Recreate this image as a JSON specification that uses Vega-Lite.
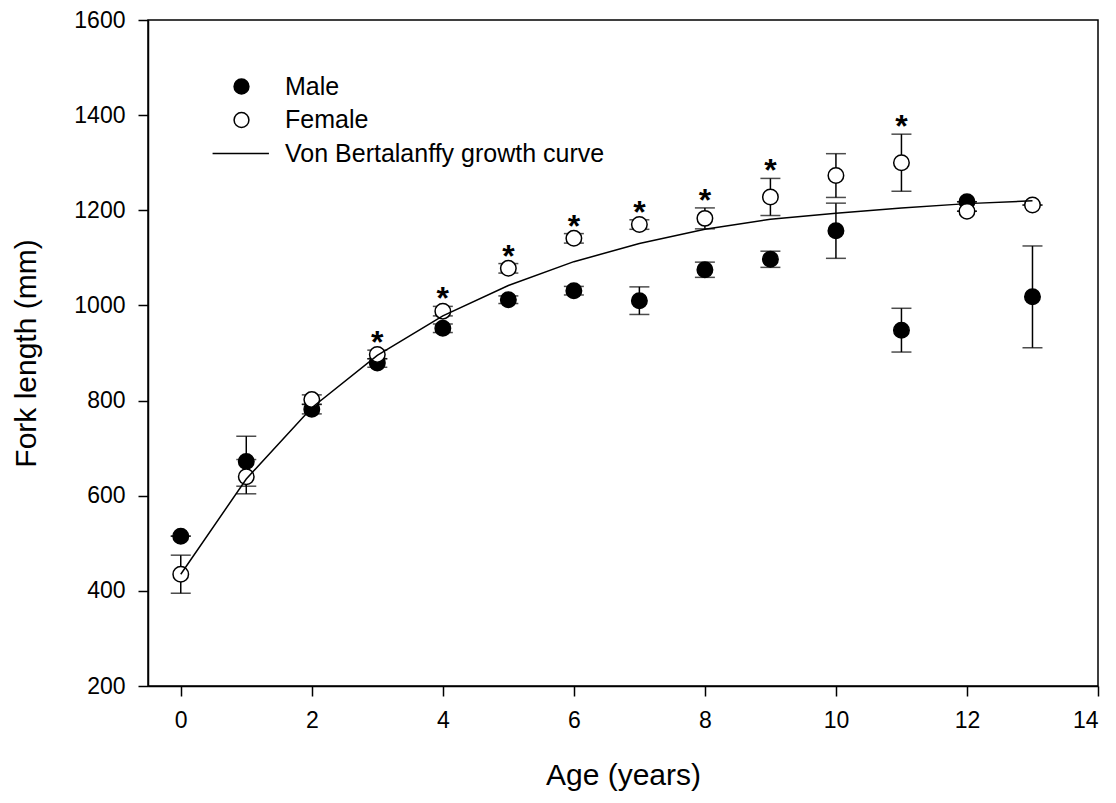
{
  "$schema": "https://vega.github.io/schema/vega-lite/v6.json",
  "autosize": "none",
  "padding": {"left": 148, "top": 20, "right": 18, "bottom": 117},
  "width": 950,
  "height": 666,
  "background": "white",
  "config": {
    "font": "Liberation Sans",
    "view": {"stroke": "black", "strokeWidth": 1.5},
    "axis": {
      "grid": false,
      "domainColor": "black",
      "domainWidth": 1.5,
      "tickColor": "black",
      "tickWidth": 1.5,
      "tickSize": 10,
      "labelColor": "black",
      "labelFont": "Liberation Sans",
      "labelFontSize": 23,
      "titleColor": "black",
      "titleFont": "Liberation Sans",
      "titleFontSize": 30,
      "titleFontWeight": "normal"
    },
    "legend": {
      "labelFont": "Liberation Sans",
      "labelFontSize": 25,
      "labelColor": "black",
      "labelLimit": 0
    }
  },
  "datasets": {
    "pts": [
      {"age": 0, "series": "Male", "fl": 515, "lo": 515, "hi": 515, "star": ""},
      {"age": 1, "series": "Male", "fl": 672, "lo": 620, "hi": 725, "star": ""},
      {"age": 2, "series": "Male", "fl": 782, "lo": 772, "hi": 792, "star": ""},
      {"age": 3, "series": "Male", "fl": 879, "lo": 870, "hi": 888, "star": ""},
      {"age": 4, "series": "Male", "fl": 952, "lo": 943, "hi": 961, "star": ""},
      {"age": 5, "series": "Male", "fl": 1012, "lo": 1004, "hi": 1020, "star": ""},
      {"age": 6, "series": "Male", "fl": 1031, "lo": 1022, "hi": 1040, "star": ""},
      {"age": 7, "series": "Male", "fl": 1010, "lo": 981, "hi": 1039, "star": ""},
      {"age": 8, "series": "Male", "fl": 1075, "lo": 1059, "hi": 1091, "star": ""},
      {"age": 9, "series": "Male", "fl": 1097, "lo": 1080, "hi": 1114, "star": ""},
      {"age": 10, "series": "Male", "fl": 1157, "lo": 1099, "hi": 1215, "star": ""},
      {"age": 11, "series": "Male", "fl": 948, "lo": 902, "hi": 994, "star": ""},
      {"age": 12, "series": "Male", "fl": 1218, "lo": 1218, "hi": 1218, "star": ""},
      {"age": 13, "series": "Male", "fl": 1018, "lo": 911, "hi": 1125, "star": ""},
      {"age": 0, "series": "Female", "fl": 435, "lo": 395, "hi": 475, "star": ""},
      {"age": 1, "series": "Female", "fl": 640, "lo": 604, "hi": 676, "star": ""},
      {"age": 2, "series": "Female", "fl": 802, "lo": 792, "hi": 812, "star": ""},
      {"age": 3, "series": "Female", "fl": 897, "lo": 888, "hi": 906, "star": "*"},
      {"age": 4, "series": "Female", "fl": 988, "lo": 978, "hi": 998, "star": "*"},
      {"age": 5, "series": "Female", "fl": 1078, "lo": 1068, "hi": 1088, "star": "*"},
      {"age": 6, "series": "Female", "fl": 1141, "lo": 1131, "hi": 1151, "star": "*"},
      {"age": 7, "series": "Female", "fl": 1170, "lo": 1160, "hi": 1180, "star": "*"},
      {"age": 8, "series": "Female", "fl": 1183, "lo": 1161, "hi": 1205, "star": "*"},
      {"age": 9, "series": "Female", "fl": 1228, "lo": 1189, "hi": 1267, "star": "*"},
      {"age": 10, "series": "Female", "fl": 1273, "lo": 1227, "hi": 1319, "star": ""},
      {"age": 11, "series": "Female", "fl": 1300, "lo": 1240, "hi": 1360, "star": "*"},
      {"age": 12, "series": "Female", "fl": 1198, "lo": 1198, "hi": 1198, "star": ""},
      {"age": 13, "series": "Female", "fl": 1211, "lo": 1211, "hi": 1211, "star": ""}
    ],
    "curve": [
      {"age": 0, "fl": 435, "series": "Von Bertalanffy growth curve"},
      {"age": 1, "fl": 635, "series": "Von Bertalanffy growth curve"},
      {"age": 2, "fl": 785, "series": "Von Bertalanffy growth curve"},
      {"age": 3, "fl": 895, "series": "Von Bertalanffy growth curve"},
      {"age": 4, "fl": 978, "series": "Von Bertalanffy growth curve"},
      {"age": 5, "fl": 1042, "series": "Von Bertalanffy growth curve"},
      {"age": 6, "fl": 1092, "series": "Von Bertalanffy growth curve"},
      {"age": 7, "fl": 1130, "series": "Von Bertalanffy growth curve"},
      {"age": 8, "fl": 1160, "series": "Von Bertalanffy growth curve"},
      {"age": 9, "fl": 1181, "series": "Von Bertalanffy growth curve"},
      {"age": 10, "fl": 1194, "series": "Von Bertalanffy growth curve"},
      {"age": 11, "fl": 1205, "series": "Von Bertalanffy growth curve"},
      {"age": 12, "fl": 1214, "series": "Von Bertalanffy growth curve"},
      {"age": 13, "fl": 1220, "series": "Von Bertalanffy growth curve"}
    ]
  },
  "encoding": {
    "x": {
      "field": "age",
      "type": "quantitative",
      "scale": {"domain": [-0.5, 14], "nice": false, "zero": false},
      "axis": {"values": [0, 2, 4, 6, 8, 10, 12, 14], "title": "Age (years)", "labelPadding": 13, "titlePadding": 28}
    }
  },
  "layer": [
    {
      "data": {"name": "pts"},
      "mark": {"type": "rule", "color": "black", "strokeWidth": 1.5},
      "encoding": {
        "y": {"field": "lo", "type": "quantitative"},
        "y2": {"field": "hi"}
      }
    },
    {
      "data": {"name": "pts"},
      "mark": {"type": "tick", "orient": "horizontal", "color": "black", "size": 20, "thickness": 1.5},
      "encoding": {"y": {"field": "lo", "type": "quantitative"}}
    },
    {
      "data": {"name": "pts"},
      "mark": {"type": "tick", "orient": "horizontal", "color": "black", "size": 20, "thickness": 1.5},
      "encoding": {"y": {"field": "hi", "type": "quantitative"}}
    },
    {
      "data": {"name": "pts"},
      "mark": {"type": "text", "fontSize": 32, "fontWeight": "bold", "color": "black", "baseline": "alphabetic", "dy": 3},
      "encoding": {
        "y": {"field": "hi", "type": "quantitative"},
        "text": {"field": "star"}
      }
    },
    {
      "data": {"name": "pts"},
      "mark": {"type": "point", "filled": false, "stroke": "black", "strokeWidth": 1.5, "opacity": 1, "size": 240},
      "encoding": {
        "y": {"field": "fl", "type": "quantitative"},
        "fill": {
          "field": "series",
          "type": "nominal",
          "scale": {"domain": ["Male", "Female", "Von Bertalanffy growth curve"], "range": ["black", "white", "transparent"]},
          "legend": {
            "title": null,
            "orient": "none",
            "legendX": 81,
            "legendY": 54,
            "padding": 0,
            "symbolStrokeColor": "black",
            "symbolStrokeWidth": 1.5,
            "symbolSize": 220,
            "symbolOpacity": 1,
            "labelOffset": 31,
            "rowPadding": 7.5
          }
        },
        "shape": {
          "field": "series",
          "type": "nominal",
          "scale": {"domain": ["Male", "Female", "Von Bertalanffy growth curve"], "range": ["circle", "circle", "M-3.9,0H3.7"]}
        }
      }
    },
    {
      "data": {"name": "curve"},
      "mark": {"type": "line", "color": "black", "strokeWidth": 1.5},
      "encoding": {
        "y": {
          "field": "fl",
          "type": "quantitative",
          "scale": {"domain": [200, 1600], "nice": false, "zero": false},
          "axis": {"values": [200, 400, 600, 800, 1000, 1200, 1400, 1600], "format": "d", "title": "Fork length (mm)", "labelPadding": 13, "titlePadding": 32}
        }
      }
    }
  ]
}
